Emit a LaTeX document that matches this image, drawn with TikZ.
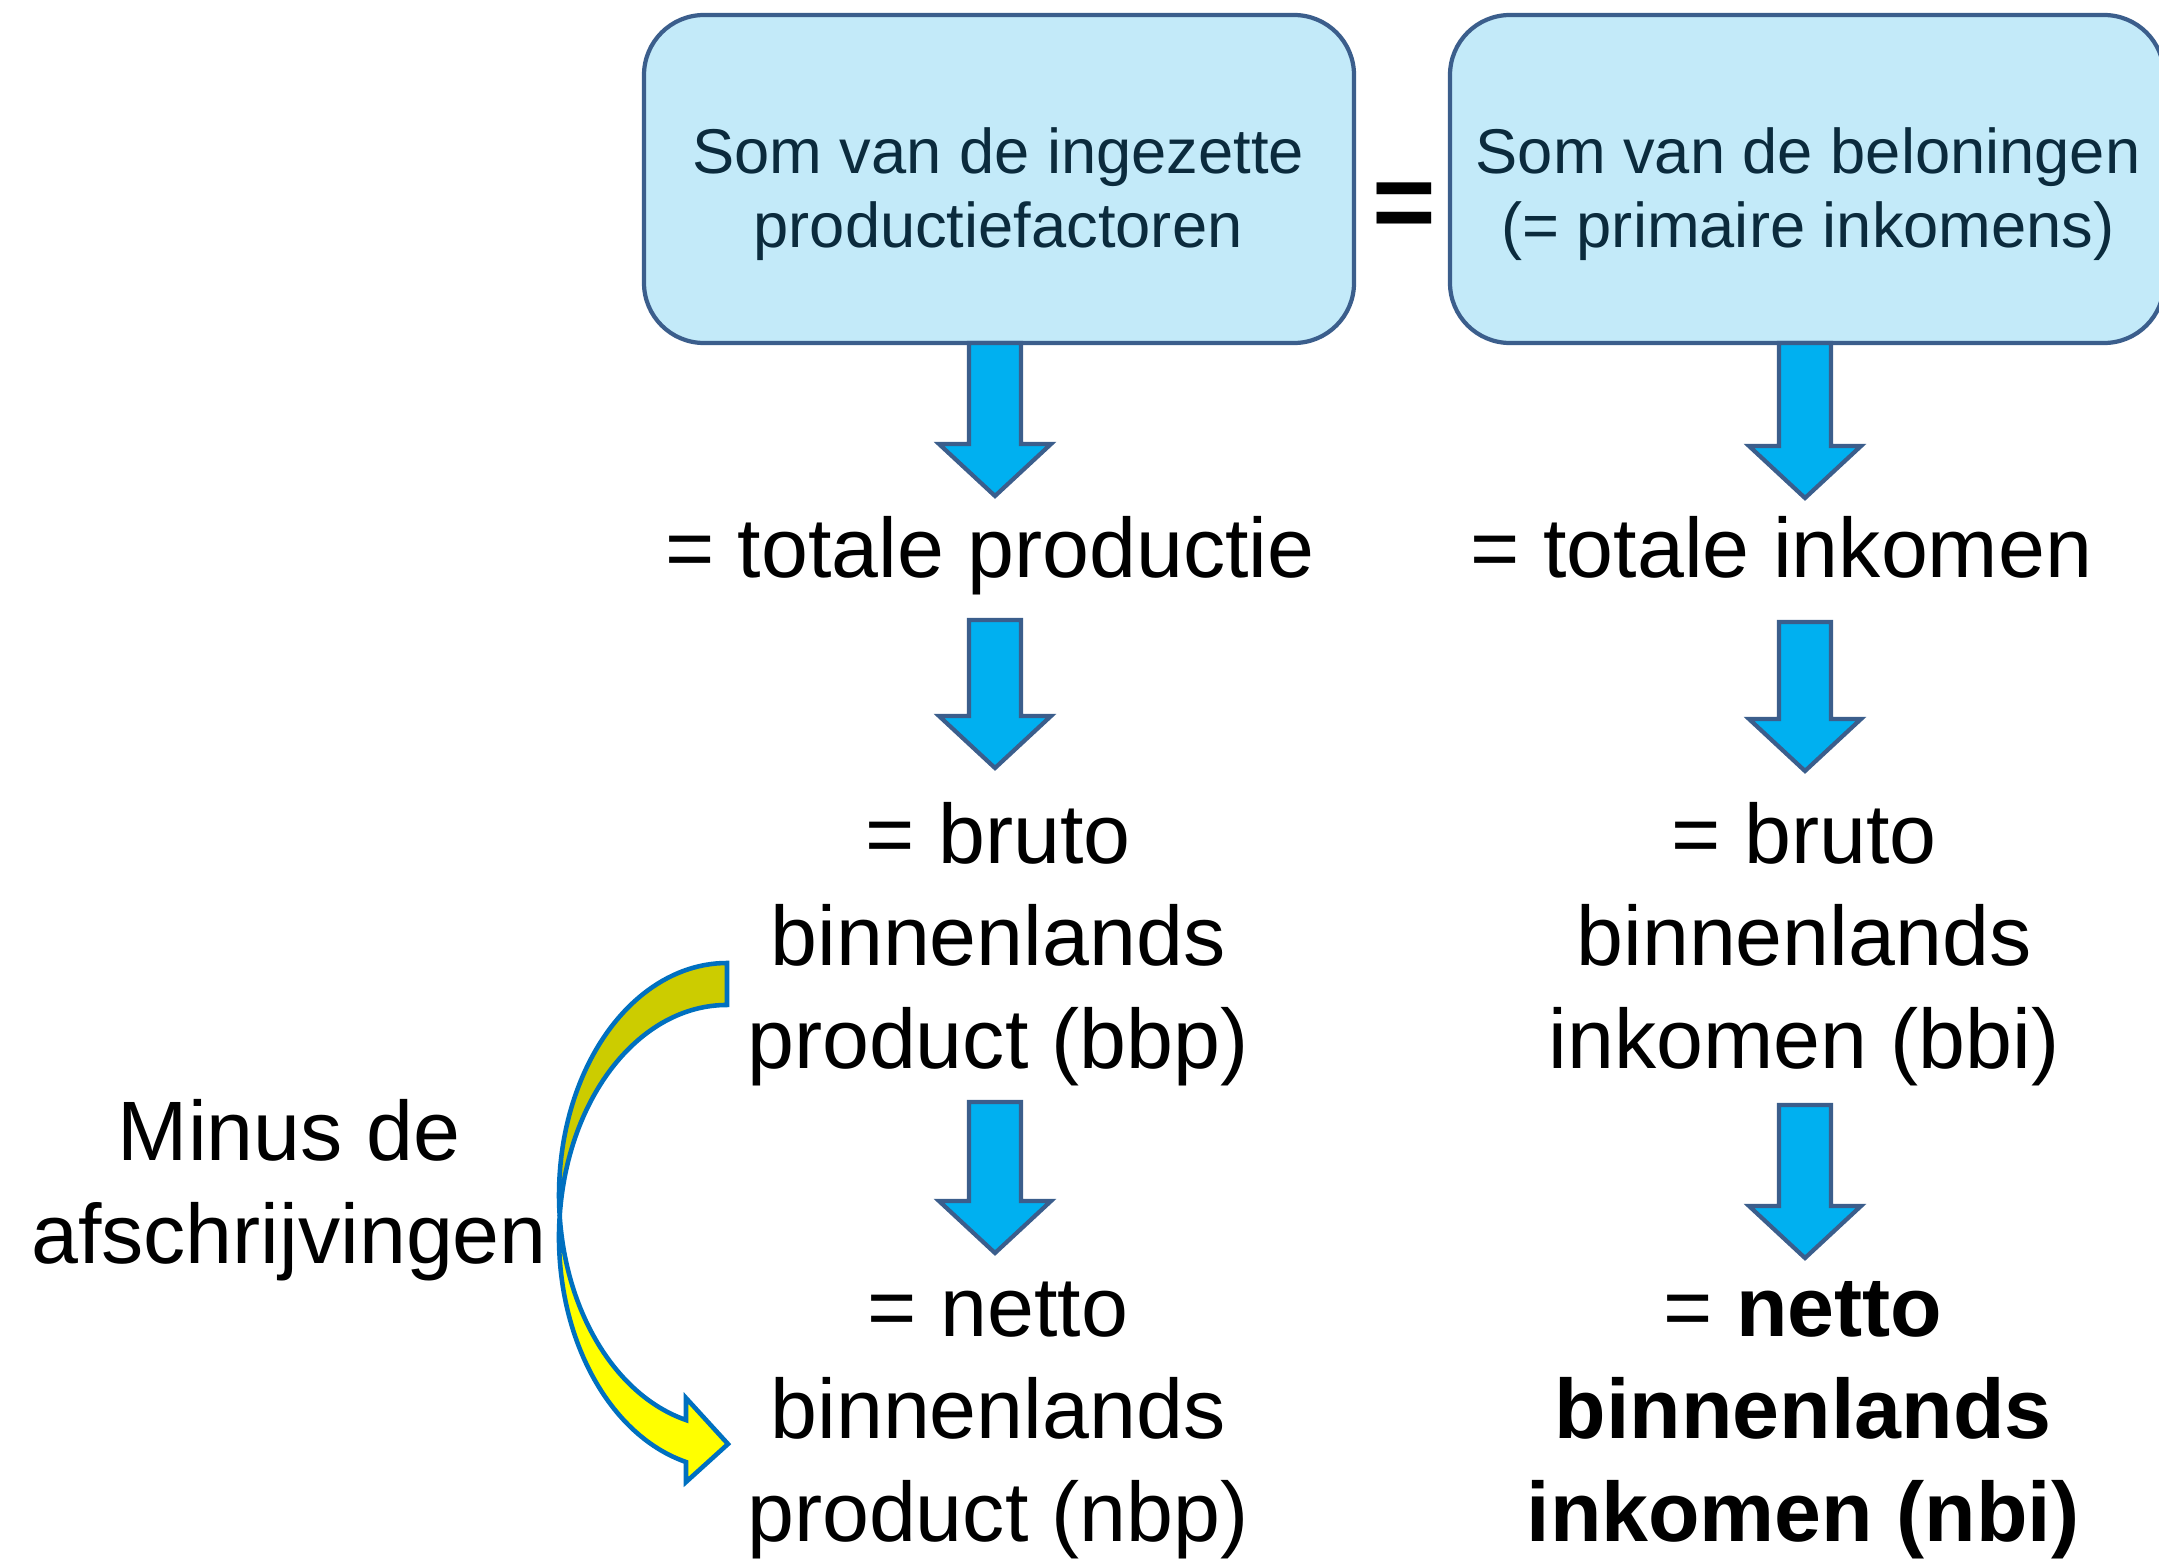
\documentclass[tikz,border=0pt]{standalone}
\usepackage{fontspec}
\setmainfont{Liberation Sans}
\usetikzlibrary{calc}

\definecolor{rand}{HTML}{3B5E8C}
\definecolor{vakblauw}{HTML}{C3EAF9}
\definecolor{vakinkt}{HTML}{0B2B3D}
\definecolor{pijlblauw}{HTML}{00B0F0}
\definecolor{bochtrand}{HTML}{0070C0}
\definecolor{bochtdonker}{HTML}{CCCC00}
\definecolor{bochtlicht}{HTML}{FFFF00}

% block arrow pointing down, from #1 (top of shaft) to #2 (tip)
\newcommand{\pijl}[2]{%
	\draw [pijl] ($(#1) + (-0.26, 0)$) -- ($(#2) + (-0.26, 0.52)$) -- ($(#2) + (-0.56, 0.52)$) -- (#2) -- ($(#2) + (0.56, 0.52)$) -- ($(#2) + (0.26, 0.52)$) -- ($(#1) + (0.26, 0)$) -- cycle;}

\begin{document}
\begin{tikzpicture}[
	vak/.style = {draw = rand, fill = vakblauw, line width = 1.2pt, rounded corners = 0.6cm},
	vaktekst/.style = {text = vakinkt, align = center, font = \fontsize{18}{21.3}\selectfont},
	tekst/.style = {align = center, font = \fontsize{24}{29.1}\selectfont},
	pijl/.style = {draw = rand, fill = pijlblauw, line width = 1.2pt},
	bocht/.style = {draw = bochtrand, line width = 1.3pt}
]

\useasboundingbox (0, 0) rectangle (21.59, -15.59);

% Boxes at the top (text nodes sit on the baseline of their last line)

\node (factoren) [vak, minimum width = 7.10cm, minimum height = 3.28cm] at (9.99, -1.79) {};
\node (beloningen) [vak, minimum width = 7.14cm, minimum height = 3.28cm] at (18.07, -1.79) {};

\node (factorentekst) [vaktekst, anchor = base] at (9.98, -2.48) {Som van de ingezette\\productiefactoren};
\node (beloningentekst) [vaktekst, anchor = base] at (18.08, -2.48) {Som van de beloningen\\(= primaire inkomens)};

\node (is) [font = \fontsize{31}{36}\selectfont\bfseries] at (14.04, -2.11) {=};

% Blue arrows

\coordinate (a1) at (9.95, -3.43);   \coordinate (a1tip) at (9.95, -4.96);
\coordinate (a2) at (9.95, -6.20);   \coordinate (a2tip) at (9.95, -7.68);
\coordinate (a3) at (9.95, -11.02);  \coordinate (a3tip) at (9.95, -12.53);
\coordinate (b1) at (18.05, -3.43);  \coordinate (b1tip) at (18.05, -4.98);
\coordinate (b2) at (18.05, -6.22);  \coordinate (b2tip) at (18.05, -7.71);
\coordinate (b3) at (18.05, -11.05); \coordinate (b3tip) at (18.05, -12.58);

\foreach \p in {a1, a2, a3, b1, b2, b3}
	\pijl{\p}{\p tip};

% Production side

\node (totprod) [tekst, anchor = base] at (9.90, -5.77) {= totale productie};
\node (bbp) [tekst, anchor = base] at (9.98, -10.68) {= bruto\\binnenlands\\product (bbp)};
\node (nbp) [tekst, anchor = base] at (9.98, -15.41) {= netto\\binnenlands\\product (nbp)};

% Income side

\node (totink) [tekst, anchor = base] at (17.815, -5.77) {= totale inkomen};
\node (bbi) [tekst, anchor = base] at (18.04, -10.68) {= bruto\\binnenlands\\inkomen (bbi)};
\node (nbi) [tekst, anchor = base] at (18.03, -15.41) {= \textbf{netto}\\\textbf{binnenlands}\\\textbf{inkomen (nbi)}};

% Depreciation

\node (afschr) [tekst, anchor = base] at (2.89, -12.63) {Minus de\\afschrijvingen};

\draw [bocht, fill = bochtdonker] (7.27, -9.63) arc (90 : 185.19 : 1.68 and 2.32) arc (174.81 : 90 : 1.68 and 2.32) -- cycle;
\draw [bocht, fill = bochtlicht] (5.597, -12.16) arc (185.19 : 255.88 : 1.68 and 2.32) -- (6.86, -13.98) -- (7.28, -14.44) -- (6.86, -14.82) -- (6.86, -14.62) arc (255.88 : 174.81 : 1.68 and 2.32) -- cycle;

\end{tikzpicture}
\end{document}
